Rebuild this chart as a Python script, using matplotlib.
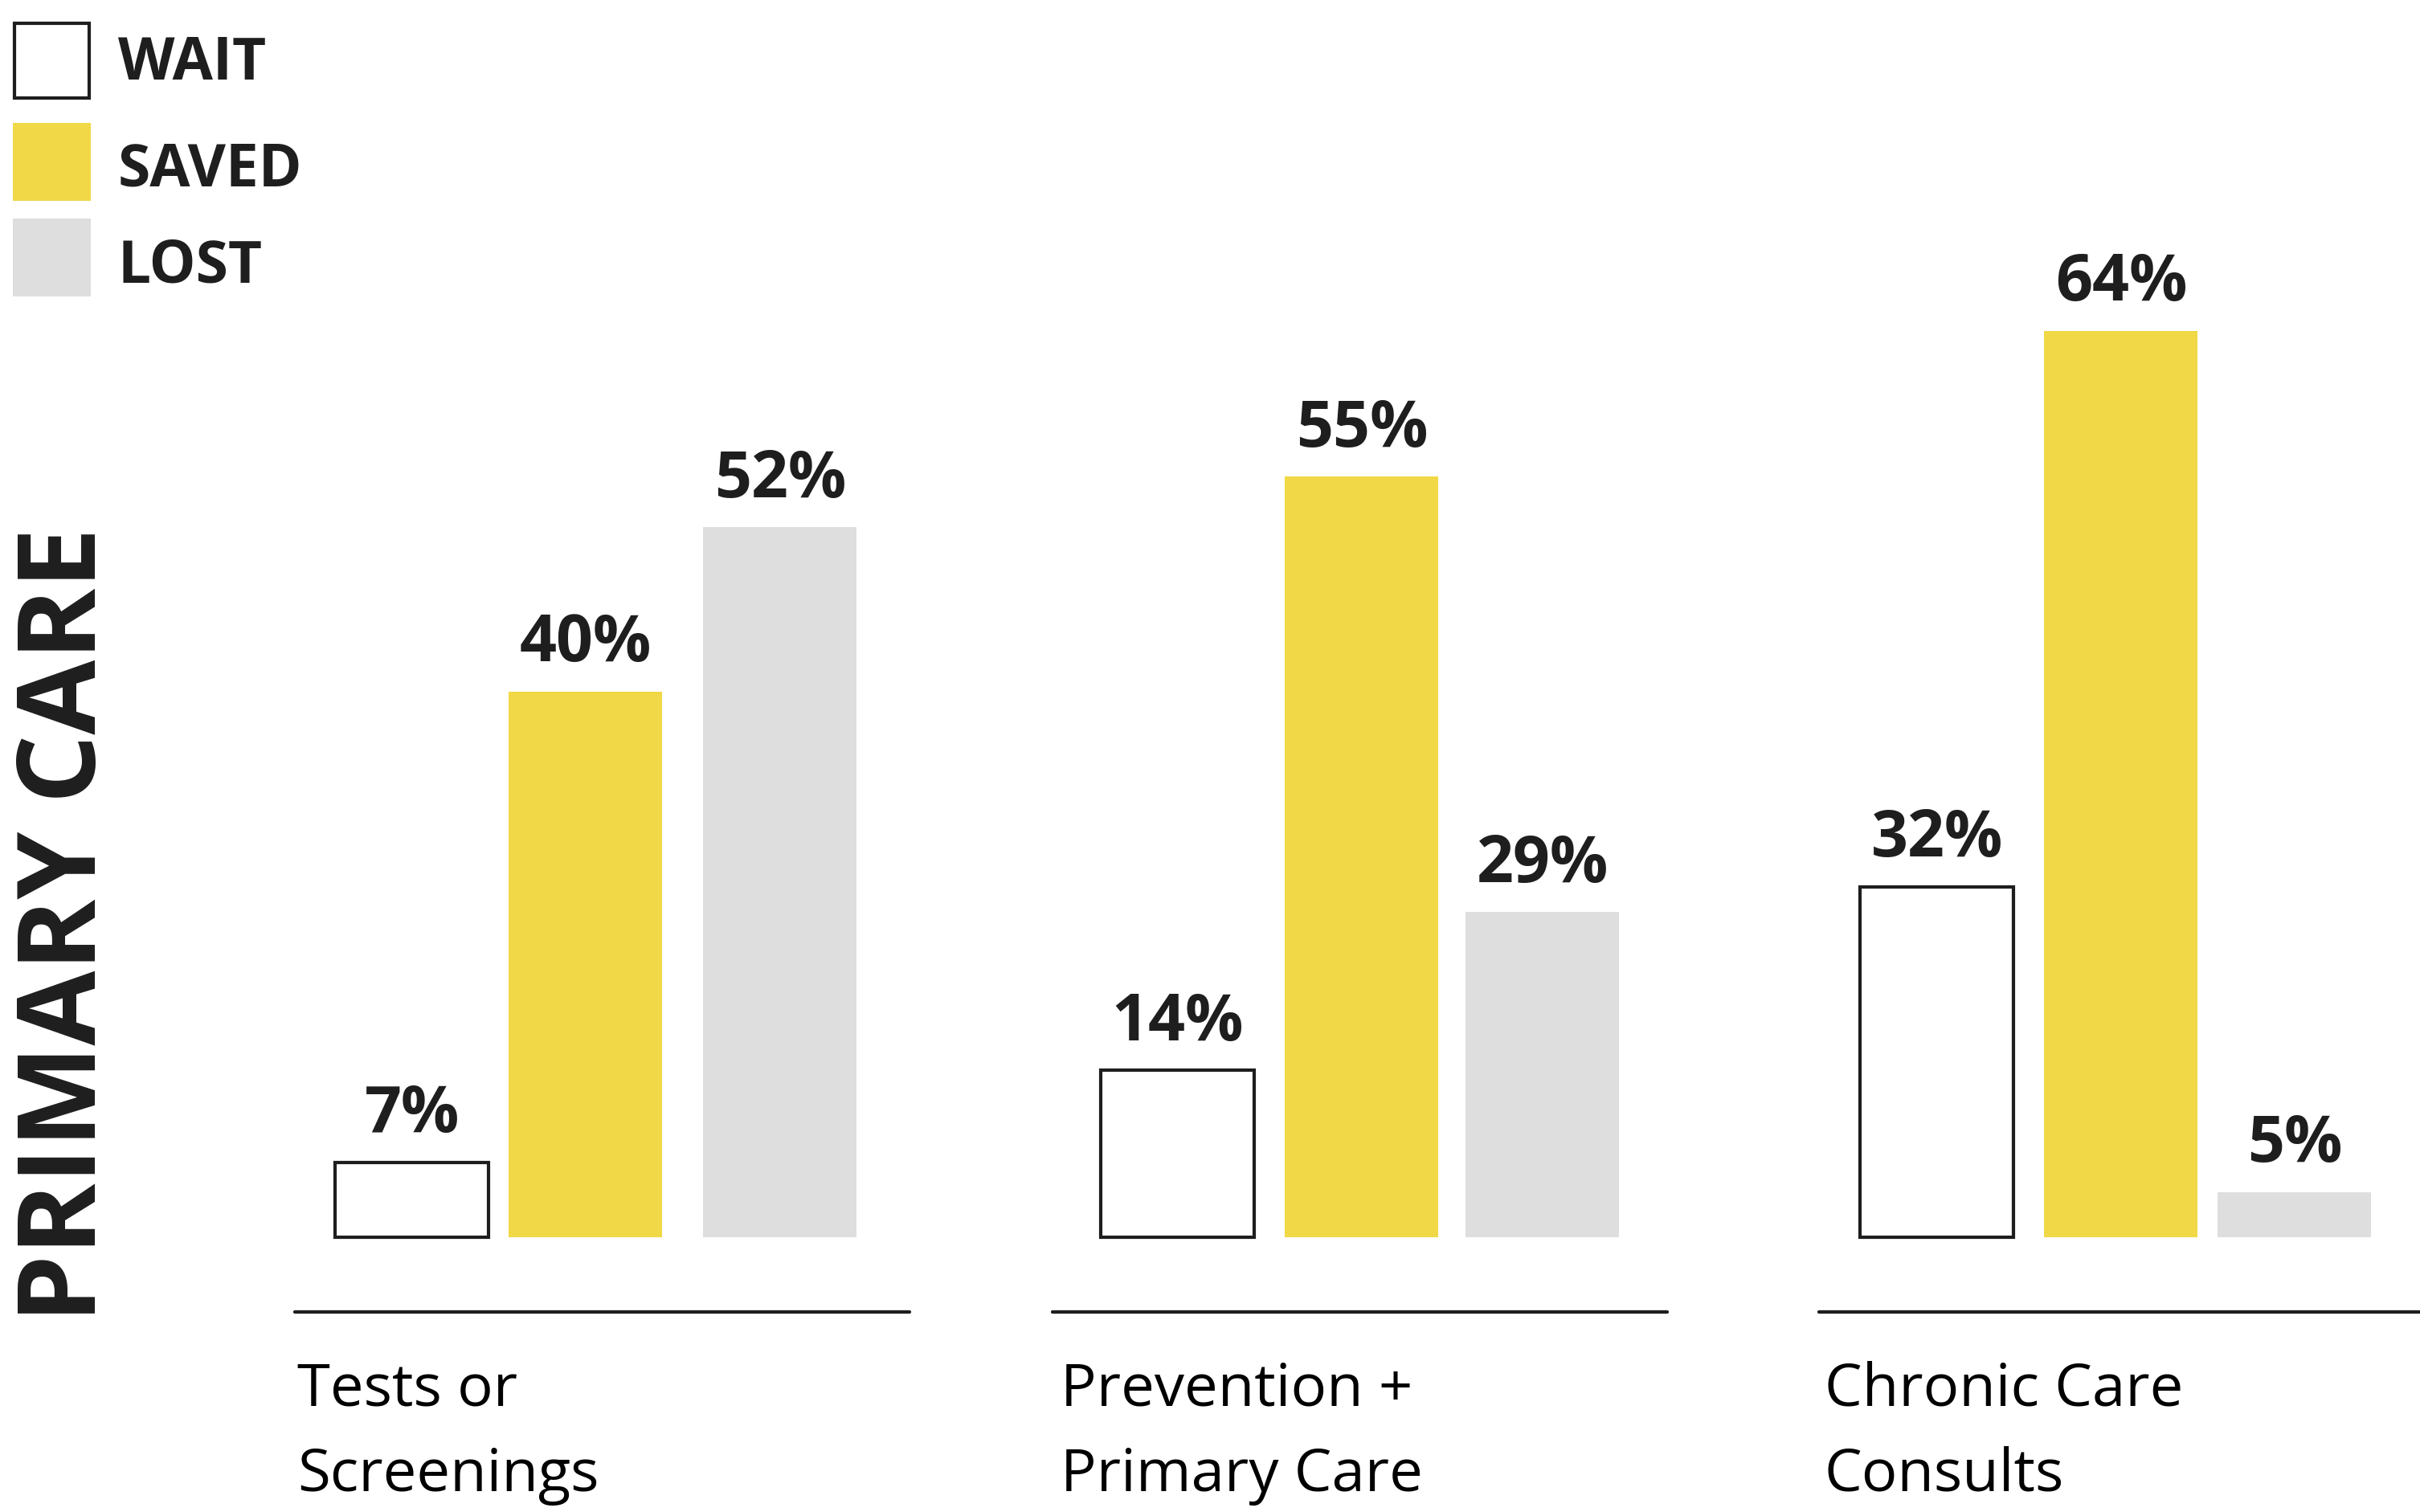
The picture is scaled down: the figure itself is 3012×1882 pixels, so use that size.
import matplotlib
matplotlib.use("Agg")
import matplotlib.pyplot as plt
from matplotlib.patches import Rectangle

# ---------------- data ----------------
categories = ["Tests or\nScreenings", "Prevention +\nPrimary Care", "Chronic Care\nConsults"]
series = ["WAIT", "SAVED", "LOST"]
wait_pct = [7, 14, 32]
saved_pct = [40, 55, 64]
lost_pct = [52, 29, 5]
# bar heights as drawn in the infographic (the artwork is not to scale with its labels)
wait_drawn = [5.3, 11.8, 24.8]
saved_drawn = [38.6, 53.8, 64.1]
lost_drawn = [50.2, 23.0, 3.2]
side_title = "PRIMARY CARE"

# ---------------- style / layout ----------------
W, H = 3012, 1882
DARK = "#1e1e1e"
YELLOW = "#F1D846"
GREY = "#DEDEDE"
FONT = ["Open Sans", "DejaVu Sans"]
PX_PER_UNIT = 17.6
BASE_Y = 1540          # bar baseline, px from top
AXIS_Y = 1633
GROUP_LEFT = [367, 1310, 2264]
LABEL_SHIFT = [3, 10, 7]
# horizontal offset of each series' bar centre from its group's left edge (per group)
SERIES_OFFSET = [[146, 362, 604],
                 [156, 385, 610],
                 [147, 376, 592]]
BAR_W = 191
LINE_LEN = 765

fig = plt.figure(figsize=(W / 100, H / 100), dpi=100)
fig.patch.set_facecolor("white")
ax = fig.add_axes([0, 0, 1, 1])
ax.set_xlim(0, W)
ax.set_ylim(-(H - BASE_Y) / PX_PER_UNIT, BASE_Y / PX_PER_UNIT)
ax.axis("off")

ov = fig.add_axes([0, 0, 1, 1], facecolor="none")
ov.set_xlim(0, W)
ov.set_ylim(H, 0)
ov.axis("off")

styles = [
    dict(facecolor="white", edgecolor=DARK, linewidth=3),
    dict(facecolor=YELLOW, edgecolor="none", linewidth=0),
    dict(facecolor=GREY, edgecolor="none", linewidth=0),
]
pcts = [wait_pct, saved_pct, lost_pct]
drawn = [wait_drawn, saved_drawn, lost_drawn]

for j in range(len(series)):
    xs = [GROUP_LEFT[i] + SERIES_OFFSET[i][j] for i in range(len(categories))]
    ax.bar(xs, drawn[j], width=BAR_W, **styles[j])
    for x, h, v in zip(xs, drawn[j], pcts[j]):
        ax.annotate(f"{v}%", (x, h), xytext=(0, 27), textcoords="offset points",
                    ha="center", va="baseline", fontsize=58, fontweight="bold",
                    family=FONT, color=DARK)

# group base lines and category labels
for i, cat in enumerate(categories):
    gl = GROUP_LEFT[i]
    ov.plot([gl, gl + LINE_LEN], [AXIS_Y, AXIS_Y], color=DARK, lw=3.1,
            solid_capstyle="round")
    for k, line in enumerate(cat.split("\n")):
        ov.text(gl + LABEL_SHIFT[i], 1749 + k * 107, line, ha="left", va="baseline",
                fontsize=53.5, family=FONT, color="black")

# legend
ov.add_patch(Rectangle((18, 29), 93, 93, facecolor="white", edgecolor=DARK, lw=3))
ov.add_patch(Rectangle((16, 153), 97, 97, facecolor=YELLOW, edgecolor="none"))
ov.add_patch(Rectangle((16, 272), 97, 97, facecolor=GREY, edgecolor="none"))
for name, yb in zip(series, [99, 231, 351]):
    ov.text(147, yb, name, ha="left", va="baseline", fontsize=52.5,
            fontweight="bold", family=FONT, color=DARK)

# vertical side title
ov.text(119, 1151, side_title, rotation=90, rotation_mode="anchor",
        ha="center", va="baseline", fontsize=97, fontweight="bold",
        family=FONT, color=DARK)

fig.savefig("out.png", dpi=100, facecolor="white")
